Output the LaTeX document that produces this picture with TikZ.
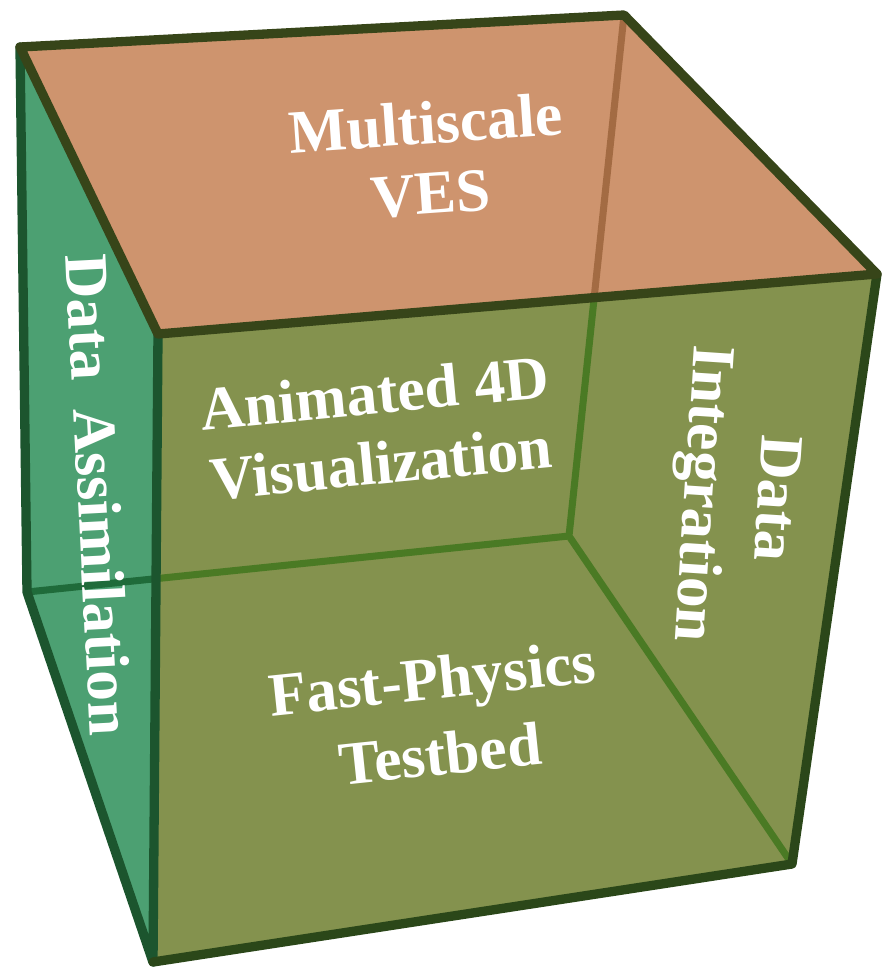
\documentclass[tikz,border=0pt]{standalone}
\usepackage{fontspec}
\setmainfont{Liberation Serif}
\newfontfamily\labelfont{Liberation Serif}[BoldFont={Liberation Serif Bold}]
\begin{document}
\begin{tikzpicture}[x=0.02cm, y=-0.02cm, line join=round, line cap=round]
  % face and edge colours
  \definecolor{topface}{HTML}{CE946E}
  \definecolor{leftface}{HTML}{4CA072}
  \definecolor{frontface}{HTML}{84924E}
  \definecolor{edgetop}{HTML}{374519}
  \definecolor{edgeleft}{HTML}{1C552E}
  \definecolor{edgefront}{HTML}{2B4719}
  \definecolor{hidtop}{HTML}{A36B43}
  \definecolor{hidfront}{HTML}{4A7A24}
  \definecolor{hidleft}{HTML}{1F6B3A}
  \tikzset{
    edge/.style={line width=5.3pt},
    hiddenedge/.style={line width=4pt},
    facelabel/.style={text=white, font=\labelfont\bfseries\fontsize{35}{40}\selectfont,
      align=center, inner sep=0pt}
  }
  \useasboundingbox (0,0) rectangle (883,975);

  % cube corners
  \coordinate (A) at (20,47);   % top, back left
  \coordinate (B) at (624,15);  % top, back right
  \coordinate (C) at (877,274); % top, front right
  \coordinate (D) at (158,334); % top, front left
  \coordinate (E) at (153,962); % bottom, front left
  \coordinate (F) at (792,864); % bottom, front right
  \coordinate (G) at (27,592);  % bottom, back left
  \coordinate (H) at (569,536); % bottom, back right (seen through)

  % faces
  \fill[topface] (A)--(B)--(C)--(D)--cycle;
  \fill[leftface] (A)--(D)--(E)--(G)--cycle;
  \fill[frontface] (D)--(C)--(F)--(E)--cycle;

  % back edges seen through the faces
  \begin{scope}
    \clip (A)--(B)--(C)--(D)--cycle;
    \draw[hiddenedge, hidtop] (B)--(H);
  \end{scope}
  \begin{scope}
    \clip (D)--(C)--(F)--(E)--cycle;
    \draw[hiddenedge, hidfront] (B)--(H)--(G) (H)--(F);
  \end{scope}
  \begin{scope}
    \clip (A)--(D)--(E)--(G)--cycle;
    \draw[hiddenedge, hidleft] (H)--(G);
  \end{scope}

  % outer edges
  \draw[edge, edgeleft] (A)--(G)--(E) (D)--(E);
  \draw[edge, edgefront] (E)--(F)--(C);
  \draw[edge, edgetop] (A)--(B)--(C)--(D)--cycle;

  % labels
  \node[facelabel, rotate=4] (ves) at (428,158) {Multiscale\\VES};
  \node[facelabel, rotate=5.5] (viz) at (378,428) {Animated 4D\\Visualization};
  \node[facelabel, rotate=6, font=\labelfont\bfseries\fontsize{35}{43.5}\selectfont] (fpt) at (436,716) {Fast-Physics\\Testbed};
  \node[facelabel, rotate=-87] (da) at (99,495) {Data\hspace{0.45em}Assimilation};
  \node[facelabel, rotate=-93.8, font=\labelfont\bfseries\fontsize{35}{42}\selectfont] (di) at (735,496) {Data\\Integration};
\end{tikzpicture}
\end{document}
